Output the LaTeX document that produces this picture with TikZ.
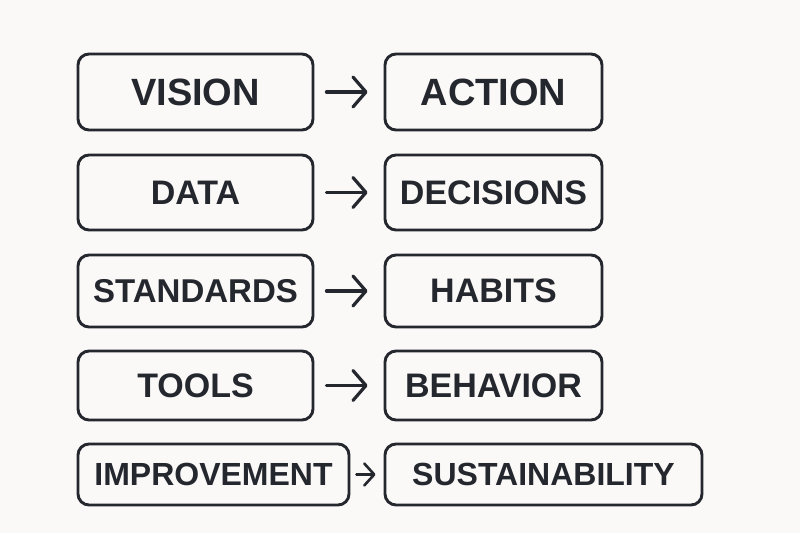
\documentclass[tikz,border=0pt]{standalone}
\usepackage{fontspec}
\setmainfont{Liberation Sans}
\usepackage{tikz}
\usetikzlibrary{arrows.meta}
\usepackage{xcolor}
\definecolor{ink}{HTML}{24272E}
\definecolor{paper}{HTML}{FAF9F7}

\begin{document}
\begin{tikzpicture}[x=1pt,y=-1pt]
\tikzstyle{word}=[draw=ink,line width=2.9pt,rounded corners=11pt,fill=paper,
  text=ink,font=\fontsize{34}{40}\selectfont\bfseries,inner sep=0pt]
\tikzstyle{flow}=[draw=ink,line width=3.2pt,line cap=round,
  arrows={-Straight Barb[length=13pt,width=30pt,line cap=round,line join=round]}]
\fill[paper] (0,0) rectangle (800,533);
\useasboundingbox (0,0) rectangle (800,533);
\node[word,minimum width=235pt,minimum height=76pt,font=\fontsize{38}{44}\selectfont\bfseries] (a1) at (195.5,92) {VISION};
\node[word,minimum width=217pt,minimum height=76pt,font=\fontsize{38}{44}\selectfont\bfseries] (b1) at (493.5,92) {ACTION};
\node[word,minimum width=235pt,minimum height=75pt] (a2) at (195.5,192.5) {DATA};
\node[word,minimum width=217pt,minimum height=75pt] (b2) at (493.5,192.5) {DECISIONS};
\node[word,minimum width=235pt,minimum height=72pt,font=\fontsize{33}{40}\selectfont\bfseries] (a3) at (195.5,291) {STANDARDS};
\node[word,minimum width=217pt,minimum height=72pt] (b3) at (493.5,291) {HABITS};
\node[word,minimum width=235pt,minimum height=69pt] (a4) at (195.5,385.5) {TOOLS};
\node[word,minimum width=217pt,minimum height=69pt] (b4) at (493.5,385.5) {BEHAVIOR};
\node[word,minimum width=271pt,minimum height=61pt,font=\fontsize{32}{38}\selectfont\bfseries] (a5) at (213.5,474.5) {IMPROVEMENT};
\node[word,minimum width=317pt,minimum height=61pt,font=\fontsize{32}{38}\selectfont\bfseries] (b5) at (543.5,474.5) {SUSTAINABILITY};
\foreach \i in {1,...,4}
  \draw[flow,shorten <=12pt,shorten >=16pt] (a\i.east) -- (b\i.west);
\draw[flow,line width=2.6pt,shorten <=6pt,shorten >=8pt,
  arrows={-Straight Barb[length=10pt,width=22pt,line cap=round,line join=round]}] (a5.east) -- (b5.west);
\end{tikzpicture}
\end{document}
